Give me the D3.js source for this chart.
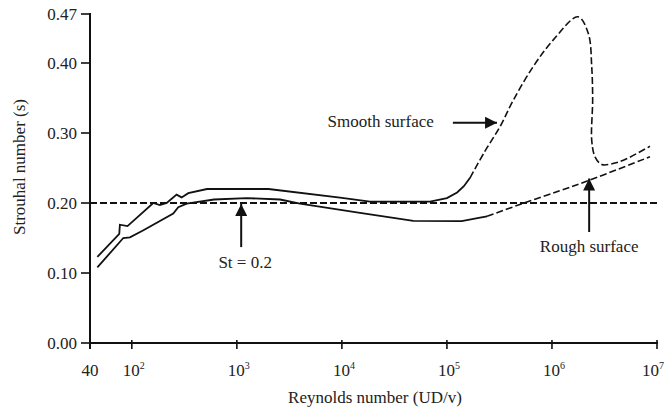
<!DOCTYPE html>
<html>
<head>
<meta charset="utf-8">
<script src="https://cdn.jsdelivr.net/npm/d3@7"></script>
<style>
  body { margin: 0; background: #fff; }
  svg text { font-family: "Liberation Serif", "Times New Roman", Times, Tinos, "Noto Serif", "DejaVu Serif", FreeSerif, serif; }
</style>
</head>
<body>
<div id="chart"></div>
<script>
// values (Re, St)
var xTicks = [40, 1e2, 1e3, 1e4, 1e5, 1e6, 1e7];
var yTicks = [0, 0.10, 0.20, 0.30, 0.40, 0.47];
var refSt = 0.2;

var smoothSolid = [
  [47, 0.123], [76, 0.156], [77, 0.169], [91, 0.167], [160, 0.200], [185, 0.197],
  [215, 0.200], [267, 0.212], [298, 0.208], [345, 0.214], [520, 0.220], [2000, 0.220],
  [9600, 0.2076], [18500, 0.202], [69000, 0.202], [100000, 0.207], [125000, 0.215],
  [145000, 0.224], [166000, 0.236]
];
var smoothDashed = [
  [166000, 0.236], [228000, 0.273], [320000, 0.309], [429000, 0.347], [664000, 0.395],
  [1030000, 0.433], [1770000, 0.466], [2220000, 0.442], [2390000, 0.395], [2440000, 0.347],
  [2390000, 0.290], [2570000, 0.266], [2980000, 0.255], [3730000, 0.256], [4780000, 0.261],
  [8570000, 0.281]
];
var roughSolid = [
  [47, 0.108], [83, 0.150], [96, 0.151], [129, 0.161], [248, 0.185], [277, 0.194],
  [333, 0.199], [607, 0.205], [1240, 0.207], [2580, 0.205], [3990, 0.199], [14900, 0.186],
  [47900, 0.1746], [138000, 0.174], [207000, 0.179], [241000, 0.181]
];
var roughDashed = [
  [241000, 0.181], [534000, 0.1996], [1190000, 0.2176], [2220000, 0.232], [8570000, 0.266]
];

// annotations: label, text anchor point, arrow start, arrow tip
var notes = [
  {text: "St = 0.2", anchor: "middle", at: [1200, 0.107], from: [1100, 0.137], to: [1100, 0.1986]},
  {text: "Smooth surface", anchor: "end", at: [75000, 0.309], from: [114000, 0.3147], to: [300000, 0.3147]},
  {text: "Rough surface", anchor: "middle", at: [2260000, 0.130], from: [2260000, 0.1586], to: [2260000, 0.235]}
];

var width = 666, height = 413;
var svg = d3.select("#chart").append("svg")
  .attr("width", width)
  .attr("height", height)
  .attr("fill", "#222");

var x = d3.scaleLog().domain([40, 1e7]).range([90, 657]);
var y = d3.scaleLinear().domain([0, 0.47]).range([343, 14]);

svg.append("defs").append("marker")
  .attr("id", "head")
  .attr("viewBox", "0 0 10 10")
  .attr("refX", 10).attr("refY", 5)
  .attr("markerWidth", 13).attr("markerHeight", 12)
  .attr("markerUnits", "userSpaceOnUse")
  .attr("orient", "auto")
  .append("path")
  .attr("d", "M0,0L10,5L0,10Z")
  .attr("fill", "#111");

// axes
var gx = svg.append("g").attr("transform", "translate(0," + y(0) + ")");
gx.append("line").attr("x1", x(40) - 1).attr("x2", x(1e7) + 1)
  .attr("stroke", "#111").attr("stroke-width", 2);
gx.selectAll(".tick").data(xTicks).join("line")
  .attr("x1", d => x(d)).attr("x2", d => x(d))
  .attr("y1", -3).attr("y2", 6)
  .attr("stroke", "#111").attr("stroke-width", 1.6);

var xl = gx.selectAll(".xl").data(xTicks).join("text")
  .attr("x", d => d === 1e7 ? 664 : x(d))
  .attr("y", 33)
  .attr("text-anchor", d => d === 1e7 ? "end" : "middle")
  .style("font-size", "17px");
xl.each(function(d) {
  var t = d3.select(this);
  if (d === 40) { t.text("40"); return; }
  if (d !== 1e7) t.attr("dx", 2);
  t.append("tspan").text("10");
  t.append("tspan").text(Math.round(Math.log10(d)))
    .attr("dy", -7).style("font-size", "10px");
});

var gy = svg.append("g").attr("transform", "translate(" + x(40) + ",0)");
gy.append("line").attr("y1", y(0.47) - 1).attr("y2", y(0) + 6)
  .attr("stroke", "#111").attr("stroke-width", 2);
gy.selectAll(".tick").data(yTicks).join("line")
  .attr("x1", -9).attr("x2", 0)
  .attr("y1", d => y(d)).attr("y2", d => y(d))
  .attr("stroke", "#111").attr("stroke-width", 1.6);
gy.selectAll(".yl").data(yTicks).join("text")
  .attr("x", -13)
  .attr("y", d => y(d) + 5.5)
  .attr("text-anchor", "end")
  .style("font-size", "17px")
  .text(d => d3.format(".2f")(d));

svg.append("text")
  .attr("transform", "translate(25," + 167 + ") rotate(-90)")
  .attr("text-anchor", "middle")
  .style("font-size", "17px")
  .text("Strouhal number (s)");

svg.append("text")
  .attr("x", 375).attr("y", 403)
  .attr("text-anchor", "middle")
  .style("font-size", "17px")
  .text("Reynolds number (UD/v)");

// reference line St = 0.2
svg.append("line")
  .attr("x1", x(40)).attr("x2", x(1e7))
  .attr("y1", y(refSt)).attr("y2", y(refSt))
  .attr("stroke", "#111").attr("stroke-width", 2)
  .attr("stroke-dasharray", "7,3");

var lin = d3.line().x(d => x(d[0])).y(d => y(d[1]));
var smooth = d3.line().x(d => x(d[0])).y(d => y(d[1])).curve(d3.curveCatmullRom.alpha(0.5));

svg.append("path").datum(smoothSolid).attr("d", lin)
  .attr("fill", "none").attr("stroke", "#111").attr("stroke-width", 1.8);
svg.append("path").datum(roughSolid).attr("d", lin)
  .attr("fill", "none").attr("stroke", "#111").attr("stroke-width", 1.8);
svg.append("path").datum(smoothDashed).attr("d", smooth)
  .attr("fill", "none").attr("stroke", "#111").attr("stroke-width", 1.6)
  .attr("stroke-dasharray", "7,3");
svg.append("path").datum(roughDashed).attr("d", smooth)
  .attr("fill", "none").attr("stroke", "#111").attr("stroke-width", 1.6)
  .attr("stroke-dasharray", "7,3");

// annotations
notes.forEach(function(n) {
  svg.append("line")
    .attr("x1", x(n.from[0])).attr("y1", y(n.from[1]))
    .attr("x2", x(n.to[0])).attr("y2", y(n.to[1]))
    .attr("stroke", "#111").attr("stroke-width", 2)
    .attr("marker-end", "url(#head)");
  svg.append("text")
    .attr("x", x(n.at[0])).attr("y", y(n.at[1]))
    .attr("text-anchor", n.anchor)
    .style("font-size", "17px")
    .text(n.text);
});
</script>
</body>
</html>
